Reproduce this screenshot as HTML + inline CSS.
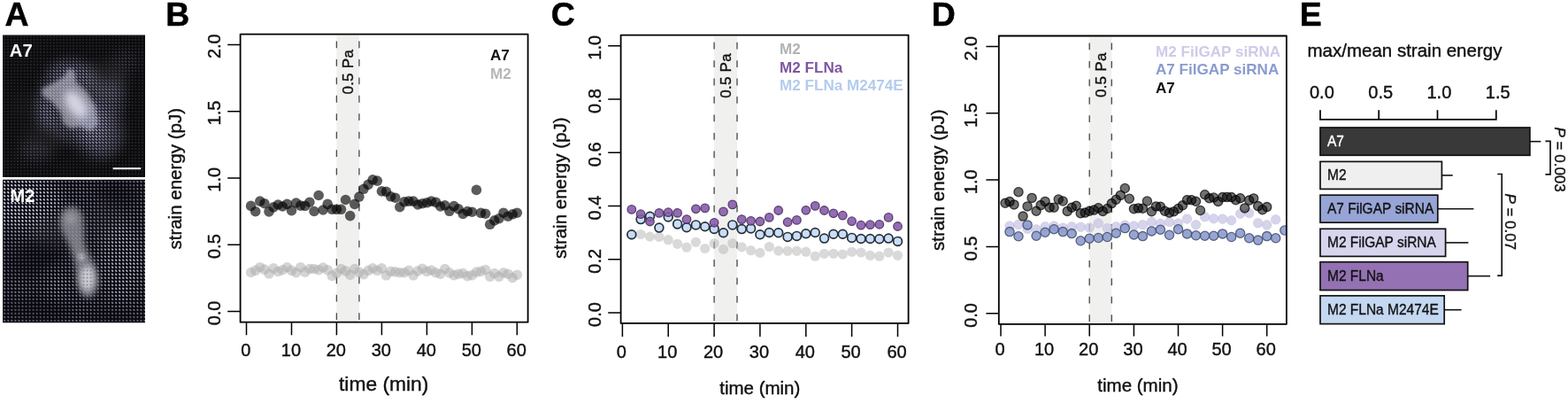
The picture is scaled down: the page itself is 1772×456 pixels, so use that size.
<!DOCTYPE html>
<html lang="en">
<head>
<meta charset="utf-8">
<title>Strain energy figure</title>
<style>
html,body{margin:0;padding:0;background:#fff;}
body{width:1772px;height:456px;overflow:hidden;}
svg{display:block;font-family:"Liberation Sans", sans-serif;}
.t{stroke:#111;stroke-width:0.4px;stroke-linejoin:round;}
</style>
</head>
<body>
<svg width="1772" height="456" viewBox="0 0 1772 456" fill="#111">
<rect width="1772" height="456" fill="#fff"/>

<text x="5.6" y="29.4" font-size="37.4" font-weight="bold" fill="#000" stroke="#000" stroke-width="0.5">A</text>
<text x="187.3" y="29.4" font-size="37.4" font-weight="bold" fill="#000" stroke="#000" stroke-width="0.5">B</text>
<text x="622.8" y="29.4" font-size="37.4" font-weight="bold" fill="#000" stroke="#000" stroke-width="0.5">C</text>
<text x="1052.8" y="29.4" font-size="37.4" font-weight="bold" fill="#000" stroke="#000" stroke-width="0.5">D</text>
<text x="1468.8" y="29.4" font-size="37.4" font-weight="bold" fill="#000" stroke="#000" stroke-width="0.5">E</text>
<g id="panelA">
<defs>
<pattern id="dotsA0" x="3.5" y="39.6" width="3.7" height="3.52" patternUnits="userSpaceOnUse"><rect x="0.9" y="0.8" width="1.8" height="1.8" rx="0.6" fill="#2a2a2e"/></pattern>
<pattern id="dotsA" x="3.5" y="39.6" width="3.7" height="3.52" patternUnits="userSpaceOnUse"><path d="M1.0 1.0L2.6 2.45" stroke="#c8c8ff" stroke-width="1.4" stroke-linecap="round"/></pattern>
<pattern id="dotsM0" x="3.2" y="203.2" width="4.06" height="4.02" patternUnits="userSpaceOnUse"><rect x="1.1" y="1.1" width="1.8" height="1.8" rx="0.6" fill="#505068"/></pattern>
<pattern id="dotsM" x="3.2" y="203.2" width="4.06" height="4.02" patternUnits="userSpaceOnUse"><path d="M1.6 1.6L2.4 2.45" stroke="#e6e6ff" stroke-width="1.45" stroke-linecap="round"/></pattern>
<filter id="bl2" x="-50%" y="-50%" width="200%" height="200%"><feGaussianBlur stdDeviation="2"/></filter>
<filter id="bl3" x="-50%" y="-50%" width="200%" height="200%"><feGaussianBlur stdDeviation="3"/></filter>
<filter id="bl5" x="-50%" y="-50%" width="200%" height="200%"><feGaussianBlur stdDeviation="5"/></filter>
<filter id="bl8" x="-50%" y="-50%" width="200%" height="200%"><feGaussianBlur stdDeviation="7"/></filter>
<clipPath id="clipA7"><rect x="3.1" y="39.4" width="160.9" height="160.5"/></clipPath>
<clipPath id="clipM2"><rect x="3.1" y="202.7" width="160.9" height="161.6"/></clipPath>
<mask id="mA7" maskUnits="userSpaceOnUse" x="0" y="30" width="170" height="180">
 <rect x="0" y="30" width="170" height="180" fill="#000"/>
 <g filter="url(#bl8)">
  <ellipse cx="86" cy="118" rx="40" ry="48" fill="#8a8a8a" transform="rotate(-28 86 118)"/>
  <ellipse cx="112" cy="152" rx="26" ry="28" fill="#8a8a8a"/>
  <ellipse cx="80" cy="84" rx="26" ry="16" fill="#c0c0c0"/>
  <ellipse cx="104" cy="140" rx="16" ry="22" fill="#f0f0f0"/>
  <ellipse cx="52" cy="124" rx="10" ry="22" fill="#d0d0d0"/>
  <ellipse cx="128" cy="112" rx="12" ry="24" fill="#909090"/>
  <ellipse cx="40" cy="172" rx="20" ry="12" fill="#484848"/>
  <ellipse cx="140" cy="70" rx="16" ry="14" fill="#383838"/>
 </g>
</mask>
<mask id="mM2" maskUnits="userSpaceOnUse" x="0" y="200" width="170" height="170">
 <rect x="0" y="200" width="170" height="170" fill="#686868"/>
 <g filter="url(#bl8)">
  <ellipse cx="40" cy="290" rx="34" ry="20" fill="#101010" transform="rotate(-20 40 290)"/>
  <ellipse cx="26" cy="226" rx="44" ry="32" fill="#ffffff"/>
  <ellipse cx="136" cy="296" rx="24" ry="46" fill="#d8d8d8"/>
  <ellipse cx="136" cy="220" rx="26" ry="14" fill="#202020"/>
  <ellipse cx="40" cy="350" rx="44" ry="14" fill="#282828"/>
  <ellipse cx="66" cy="322" rx="14" ry="14" fill="#c0c0c0"/>
  <ellipse cx="130" cy="360" rx="40" ry="10" fill="#303030"/>
 </g>
</mask>
</defs>
<g clip-path="url(#clipA7)">
<rect x="3" y="39" width="161.5" height="161.5" fill="#0b0b0d"/>
<g filter="url(#bl8)" opacity="0.2"><ellipse cx="118" cy="92" rx="26" ry="22" fill="#606060"/><ellipse cx="48" cy="156" rx="24" ry="18" fill="#4a4a4a"/><ellipse cx="122" cy="150" rx="22" ry="26" fill="#444"/><ellipse cx="30" cy="120" rx="18" ry="16" fill="#333"/></g>
<rect x="3" y="39" width="161.5" height="161.5" fill="url(#dotsA0)"/>
<g filter="url(#bl2)"><path d="M47 100 L60 94 L72 87 L78 77 L84 80 L86 93 L98 103 L108 120 L111 140 L103 148 L90 143 L80 145 L72 140 L68 126 L58 114 L48 108 Z" fill="#77777b"/></g>
<g filter="url(#bl5)"><ellipse cx="86" cy="118" rx="10" ry="18" fill="#d8d8dc" transform="rotate(-35 86 118)"/></g>
<rect x="3" y="39" width="161.5" height="161.5" fill="url(#dotsA)" mask="url(#mA7)"/>
<rect x="127.6" y="189.2" width="31.6" height="2" fill="#fff"/>
<text x="10.8" y="63.6" font-size="20.3" font-weight="bold" fill="#fff">A7</text>
</g>
<g clip-path="url(#clipM2)">
<rect x="3" y="202" width="161.5" height="163" fill="#08080d"/>
<g filter="url(#bl8)" opacity="0.22"><ellipse cx="56" cy="262" rx="22" ry="18" fill="#444"/><ellipse cx="120" cy="250" rx="22" ry="26" fill="#333"/></g>
<g filter="url(#bl3)"><path d="M68 246 Q70 234 82 233 Q94 236 94 250 Q95 264 95 274 Q98 284 103 292 Q111 304 111 320 Q108 336 98 336 Q88 332 87 316 Q86 300 83 290 Q79 278 74 268 Q67 258 68 246 Z" fill="#77777b"/></g>
<g filter="url(#bl3)"><ellipse cx="98.5" cy="314" rx="8" ry="14" fill="#d0d0d4"/><circle cx="80" cy="247" r="6" fill="#9a9a9e"/></g>
<g filter="url(#bl2)"><ellipse cx="92" cy="290" rx="3" ry="4" fill="#c8c8cc" transform="rotate(-30 92 290)"/></g>
<rect x="3" y="202" width="161.5" height="163" fill="url(#dotsM0)"/>
<rect x="3" y="202" width="161.5" height="163" fill="url(#dotsM)" mask="url(#mM2)"/>
<text x="11.6" y="228.2" font-size="20" font-weight="bold" fill="#fff">M2</text>
</g>
</g>
<g id="panelB">
<clipPath id="clipB"><rect x="271.6" y="38.55" width="325.0" height="325.15"/></clipPath>
<rect x="380.4" y="40.0" width="25.5" height="323.6" fill="#f0f0ef"/>
<line x1="380.4" y1="46.5" x2="380.4" y2="363.7" stroke="#4c4c4c" stroke-width="1.35" stroke-dasharray="7.8 12.65"/>
<line x1="405.9" y1="46.5" x2="405.9" y2="363.7" stroke="#4c4c4c" stroke-width="1.35" stroke-dasharray="7.8 12.65"/>
<text transform="translate(398.9,55.9) rotate(-90)" text-anchor="end" font-size="17" letter-spacing="0.25" class="t" fill="#111">0.5 Pa</text>
<g clip-path="url(#clipB)">
<g fill="rgba(170,170,170,0.5)"><circle cx="283.6" cy="307.5" r="5.8"/><circle cx="288.7" cy="305.3" r="5.8"/><circle cx="293.8" cy="301.7" r="5.8"/><circle cx="298.9" cy="304.1" r="5.8"/><circle cx="304.0" cy="309.0" r="5.8"/><circle cx="309.1" cy="302.9" r="5.8"/><circle cx="314.2" cy="306.5" r="5.8"/><circle cx="319.3" cy="304.7" r="5.8"/><circle cx="324.4" cy="301.7" r="5.8"/><circle cx="329.5" cy="305.3" r="5.8"/><circle cx="334.6" cy="307.7" r="5.8"/><circle cx="339.7" cy="301.7" r="5.8"/><circle cx="344.8" cy="307.1" r="5.8"/><circle cx="349.9" cy="303.5" r="5.8"/><circle cx="355.0" cy="303.5" r="5.8"/><circle cx="360.1" cy="304.7" r="5.8"/><circle cx="365.1" cy="302.0" r="5.8"/><circle cx="370.2" cy="304.7" r="5.8"/><circle cx="375.3" cy="311.4" r="5.8"/><circle cx="380.4" cy="308.3" r="5.8"/><circle cx="385.5" cy="303.5" r="5.8"/><circle cx="390.6" cy="305.9" r="5.8"/><circle cx="395.7" cy="310.2" r="5.8"/><circle cx="400.8" cy="303.5" r="5.8"/><circle cx="405.9" cy="307.1" r="5.8"/><circle cx="411.0" cy="309.6" r="5.8"/><circle cx="416.1" cy="305.3" r="5.8"/><circle cx="421.2" cy="302.9" r="5.8"/><circle cx="426.3" cy="305.3" r="5.8"/><circle cx="431.4" cy="302.9" r="5.8"/><circle cx="436.5" cy="310.8" r="5.8"/><circle cx="441.6" cy="306.3" r="5.8"/><circle cx="446.7" cy="306.8" r="5.8"/><circle cx="451.8" cy="307.7" r="5.8"/><circle cx="456.9" cy="307.7" r="5.8"/><circle cx="462.0" cy="305.3" r="5.8"/><circle cx="467.1" cy="310.8" r="5.8"/><circle cx="472.2" cy="305.9" r="5.8"/><circle cx="477.3" cy="303.2" r="5.8"/><circle cx="482.4" cy="306.4" r="5.8"/><circle cx="487.5" cy="305.0" r="5.8"/><circle cx="492.6" cy="307.8" r="5.8"/><circle cx="497.7" cy="309.2" r="5.8"/><circle cx="502.8" cy="303.5" r="5.8"/><circle cx="507.9" cy="307.8" r="5.8"/><circle cx="513.0" cy="310.6" r="5.8"/><circle cx="518.1" cy="309.2" r="5.8"/><circle cx="523.2" cy="308.5" r="5.8"/><circle cx="528.3" cy="311.6" r="5.8"/><circle cx="533.4" cy="310.6" r="5.8"/><circle cx="538.4" cy="307.1" r="5.8"/><circle cx="543.5" cy="306.4" r="5.8"/><circle cx="548.6" cy="304.5" r="5.8"/><circle cx="553.7" cy="312.1" r="5.8"/><circle cx="558.8" cy="308.5" r="5.8"/><circle cx="563.9" cy="312.1" r="5.8"/><circle cx="569.0" cy="307.8" r="5.8"/><circle cx="574.1" cy="309.2" r="5.8"/><circle cx="579.2" cy="313.5" r="5.8"/><circle cx="584.3" cy="310.2" r="5.8"/></g>
<g fill="rgba(0,0,0,0.64)"><circle cx="283.6" cy="232.4" r="5.8"/><circle cx="288.7" cy="238.7" r="5.8"/><circle cx="293.8" cy="227.1" r="5.8"/><circle cx="298.9" cy="229.7" r="5.8"/><circle cx="304.0" cy="238.9" r="5.8"/><circle cx="309.1" cy="233.9" r="5.8"/><circle cx="314.2" cy="231.0" r="5.8"/><circle cx="319.3" cy="233.0" r="5.8"/><circle cx="324.4" cy="230.4" r="5.8"/><circle cx="329.5" cy="237.6" r="5.8"/><circle cx="334.6" cy="229.0" r="5.8"/><circle cx="339.7" cy="232.1" r="5.8"/><circle cx="344.8" cy="232.4" r="5.8"/><circle cx="349.9" cy="228.2" r="5.8"/><circle cx="355.0" cy="238.5" r="5.8"/><circle cx="360.1" cy="220.5" r="5.8"/><circle cx="365.1" cy="237.0" r="5.8"/><circle cx="370.2" cy="230.4" r="5.8"/><circle cx="375.3" cy="236.3" r="5.8"/><circle cx="380.4" cy="236.3" r="5.8"/><circle cx="385.5" cy="236.3" r="5.8"/><circle cx="390.6" cy="225.5" r="5.8"/><circle cx="395.7" cy="243.6" r="5.8"/><circle cx="400.8" cy="230.4" r="5.8"/><circle cx="405.9" cy="222.1" r="5.8"/><circle cx="411.0" cy="213.3" r="5.8"/><circle cx="416.1" cy="208.4" r="5.8"/><circle cx="421.2" cy="202.8" r="5.8"/><circle cx="426.3" cy="204.1" r="5.8"/><circle cx="431.4" cy="215.9" r="5.8"/><circle cx="436.5" cy="216.3" r="5.8"/><circle cx="441.6" cy="221.8" r="5.8"/><circle cx="446.7" cy="223.2" r="5.8"/><circle cx="451.8" cy="233.7" r="5.8"/><circle cx="456.9" cy="227.8" r="5.8"/><circle cx="462.0" cy="227.1" r="5.8"/><circle cx="467.1" cy="227.1" r="5.8"/><circle cx="472.2" cy="231.0" r="5.8"/><circle cx="477.3" cy="229.7" r="5.8"/><circle cx="482.4" cy="228.8" r="5.8"/><circle cx="487.5" cy="227.1" r="5.8"/><circle cx="492.6" cy="228.4" r="5.8"/><circle cx="497.7" cy="233.0" r="5.8"/><circle cx="502.8" cy="231.8" r="5.8"/><circle cx="507.9" cy="238.3" r="5.8"/><circle cx="513.0" cy="232.6" r="5.8"/><circle cx="518.1" cy="235.9" r="5.8"/><circle cx="523.2" cy="241.4" r="5.8"/><circle cx="528.3" cy="238.5" r="5.8"/><circle cx="533.4" cy="239.2" r="5.8"/><circle cx="538.4" cy="214.4" r="5.8"/><circle cx="543.5" cy="240.4" r="5.8"/><circle cx="548.6" cy="241.2" r="5.8"/><circle cx="553.7" cy="253.3" r="5.8"/><circle cx="558.8" cy="248.9" r="5.8"/><circle cx="563.9" cy="246.7" r="5.8"/><circle cx="569.0" cy="240.2" r="5.8"/><circle cx="574.1" cy="244.2" r="5.8"/><circle cx="579.2" cy="241.8" r="5.8"/><circle cx="584.3" cy="240.2" r="5.8"/></g>
</g>
<rect x="271.6" y="38.55" width="325.0" height="325.1" fill="none" stroke="#000" stroke-width="1.8" stroke-linejoin="round"/>
<path d="M257.2 351.6H271.6M257.2 276.3H271.6M257.2 201.0H271.6M257.2 125.7H271.6M257.2 50.4H271.6M278.5 363.7V378.3M329.5 363.7V378.3M380.4 363.7V378.3M431.4 363.7V378.3M482.4 363.7V378.3M533.4 363.7V378.3M584.3 363.7V378.3" stroke="#000" stroke-width="1.5" fill="none"/>
<text transform="translate(249.3,353.4) rotate(-90)" text-anchor="middle" font-size="20" class="t">0.0</text>
<text transform="translate(249.3,278.1) rotate(-90)" text-anchor="middle" font-size="20" class="t">0.5</text>
<text transform="translate(249.3,202.8) rotate(-90)" text-anchor="middle" font-size="20" class="t">1.0</text>
<text transform="translate(249.3,127.5) rotate(-90)" text-anchor="middle" font-size="20" class="t">1.5</text>
<text transform="translate(249.3,52.2) rotate(-90)" text-anchor="middle" font-size="20" class="t">2.0</text>
<text x="277.9" y="402.1" text-anchor="middle" font-size="20" class="t">0</text>
<text x="328.9" y="402.1" text-anchor="middle" font-size="20" class="t">10</text>
<text x="379.8" y="402.1" text-anchor="middle" font-size="20" class="t">20</text>
<text x="430.8" y="402.1" text-anchor="middle" font-size="20" class="t">30</text>
<text x="481.8" y="402.1" text-anchor="middle" font-size="20" class="t">40</text>
<text x="532.8" y="402.1" text-anchor="middle" font-size="20" class="t">50</text>
<text x="583.7" y="402.1" text-anchor="middle" font-size="20" class="t">60</text>
<text x="433.7" y="440.6" text-anchor="middle" font-size="22.8" class="t">time (min)</text>
<text transform="translate(205.4,201.8) rotate(-90)" text-anchor="middle" font-size="20.5" class="t">strain energy (pJ)</text>
<text x="554" y="68" font-size="17.1" font-weight="bold" fill="#111">A7</text>
<text x="554" y="88.5" font-size="17.1" font-weight="bold" fill="#b6b6b6">M2</text>
</g>
<g id="panelC">
<clipPath id="clipC"><rect x="701.6" y="39.7" width="324.9999999999999" height="325.2"/></clipPath>
<rect x="807.1" y="41.2" width="25.9" height="323.7" fill="#f0f0ef"/>
<line x1="807.1" y1="47.7" x2="807.1" y2="364.9" stroke="#4c4c4c" stroke-width="1.35" stroke-dasharray="7.8 12.65"/>
<line x1="833.0" y1="47.7" x2="833.0" y2="364.9" stroke="#4c4c4c" stroke-width="1.35" stroke-dasharray="7.8 12.65"/>
<text transform="translate(825.8,60.1) rotate(-90)" text-anchor="end" font-size="17" letter-spacing="0.25" class="t" fill="#111">0.5 Pa</text>
<g clip-path="url(#clipC)">
<g fill="rgba(185,185,185,0.55)"><circle cx="713.8" cy="265.4" r="5.6"/><circle cx="724.1" cy="264.5" r="5.6"/><circle cx="734.5" cy="267.1" r="5.6"/><circle cx="744.9" cy="267.4" r="5.6"/><circle cx="755.2" cy="270.7" r="5.6"/><circle cx="765.6" cy="275.3" r="5.6"/><circle cx="776.0" cy="279.2" r="5.6"/><circle cx="786.4" cy="273.3" r="5.6"/><circle cx="796.7" cy="280.5" r="5.6"/><circle cx="807.1" cy="274.8" r="5.6"/><circle cx="817.5" cy="281.4" r="5.6"/><circle cx="827.8" cy="274.7" r="5.6"/><circle cx="838.2" cy="278.8" r="5.6"/><circle cx="848.6" cy="282.7" r="5.6"/><circle cx="858.9" cy="285.4" r="5.6"/><circle cx="869.3" cy="278.5" r="5.6"/><circle cx="879.7" cy="283.1" r="5.6"/><circle cx="890.1" cy="283.3" r="5.6"/><circle cx="900.4" cy="283.3" r="5.6"/><circle cx="910.8" cy="284.2" r="5.6"/><circle cx="921.2" cy="289.2" r="5.6"/><circle cx="931.5" cy="286.3" r="5.6"/><circle cx="941.9" cy="286.3" r="5.6"/><circle cx="952.3" cy="287.0" r="5.6"/><circle cx="962.6" cy="284.3" r="5.6"/><circle cx="973.0" cy="285.0" r="5.6"/><circle cx="983.4" cy="288.3" r="5.6"/><circle cx="993.8" cy="289.2" r="5.6"/><circle cx="1004.1" cy="285.0" r="5.6"/><circle cx="1014.5" cy="288.3" r="5.6"/></g>
<g fill="rgba(198,219,246,0.92)" stroke="#26303a" stroke-width="1.7"><circle cx="713.8" cy="264.7" r="4.9"/><circle cx="724.1" cy="247.6" r="4.9"/><circle cx="734.5" cy="244.3" r="4.9"/><circle cx="744.9" cy="257.1" r="4.9"/><circle cx="755.2" cy="245.0" r="4.9"/><circle cx="765.6" cy="252.9" r="4.9"/><circle cx="776.0" cy="256.8" r="4.9"/><circle cx="786.4" cy="253.9" r="4.9"/><circle cx="796.7" cy="255.8" r="4.9"/><circle cx="807.1" cy="258.4" r="4.9"/><circle cx="817.5" cy="262.8" r="4.9"/><circle cx="827.8" cy="253.9" r="4.9"/><circle cx="838.2" cy="258.6" r="4.9"/><circle cx="848.6" cy="257.9" r="4.9"/><circle cx="858.9" cy="264.7" r="4.9"/><circle cx="869.3" cy="262.5" r="4.9"/><circle cx="879.7" cy="262.8" r="4.9"/><circle cx="890.1" cy="267.4" r="4.9"/><circle cx="900.4" cy="266.4" r="4.9"/><circle cx="910.8" cy="263.8" r="4.9"/><circle cx="921.2" cy="262.5" r="4.9"/><circle cx="931.5" cy="269.1" r="4.9"/><circle cx="941.9" cy="264.2" r="4.9"/><circle cx="952.3" cy="264.2" r="4.9"/><circle cx="962.6" cy="268.4" r="4.9"/><circle cx="973.0" cy="269.5" r="4.9"/><circle cx="983.4" cy="269.5" r="4.9"/><circle cx="993.8" cy="269.7" r="4.9"/><circle cx="1004.1" cy="269.1" r="4.9"/><circle cx="1014.5" cy="272.4" r="4.9"/></g>
<g fill="rgba(136,92,170,0.9)" stroke="rgba(70,42,95,0.85)" stroke-width="1.3"><circle cx="713.8" cy="236.4" r="4.75"/><circle cx="724.1" cy="241.7" r="4.75"/><circle cx="734.5" cy="250.0" r="4.75"/><circle cx="744.9" cy="240.4" r="4.75"/><circle cx="755.2" cy="239.7" r="4.75"/><circle cx="765.6" cy="240.4" r="4.75"/><circle cx="776.0" cy="247.6" r="4.75"/><circle cx="786.4" cy="235.8" r="4.75"/><circle cx="796.7" cy="234.9" r="4.75"/><circle cx="807.1" cy="251.3" r="4.75"/><circle cx="817.5" cy="238.9" r="4.75"/><circle cx="827.8" cy="230.9" r="4.75"/><circle cx="838.2" cy="247.6" r="4.75"/><circle cx="848.6" cy="249.3" r="4.75"/><circle cx="858.9" cy="250.0" r="4.75"/><circle cx="869.3" cy="245.4" r="4.75"/><circle cx="879.7" cy="237.5" r="4.75"/><circle cx="890.1" cy="250.7" r="4.75"/><circle cx="900.4" cy="248.4" r="4.75"/><circle cx="910.8" cy="237.3" r="4.75"/><circle cx="921.2" cy="232.4" r="4.75"/><circle cx="931.5" cy="237.5" r="4.75"/><circle cx="941.9" cy="240.8" r="4.75"/><circle cx="952.3" cy="243.2" r="4.75"/><circle cx="962.6" cy="249.7" r="4.75"/><circle cx="973.0" cy="254.2" r="4.75"/><circle cx="983.4" cy="253.7" r="4.75"/><circle cx="993.8" cy="253.3" r="4.75"/><circle cx="1004.1" cy="245.4" r="4.75"/><circle cx="1014.5" cy="255.5" r="4.75"/></g>
</g>
<rect x="701.6" y="39.7" width="325.0" height="325.2" fill="none" stroke="#000" stroke-width="1.8" stroke-linejoin="round"/>
<path d="M687.2 353.0H701.6M687.2 292.8H701.6M687.2 232.5H701.6M687.2 172.3H701.6M687.2 112.0H701.6M687.2 51.8H701.6M703.4 364.9V380.0M755.2 364.9V380.0M807.1 364.9V380.0M858.9 364.9V380.0M910.8 364.9V380.0M962.6 364.9V380.0M1014.5 364.9V380.0" stroke="#000" stroke-width="1.5" fill="none"/>
<text transform="translate(678.6,355.0) rotate(-90)" text-anchor="middle" font-size="20" class="t">0.0</text>
<text transform="translate(678.6,294.8) rotate(-90)" text-anchor="middle" font-size="20" class="t">0.2</text>
<text transform="translate(678.6,234.5) rotate(-90)" text-anchor="middle" font-size="20" class="t">0.4</text>
<text transform="translate(678.6,174.3) rotate(-90)" text-anchor="middle" font-size="20" class="t">0.6</text>
<text transform="translate(678.6,114.0) rotate(-90)" text-anchor="middle" font-size="20" class="t">0.8</text>
<text transform="translate(678.6,53.8) rotate(-90)" text-anchor="middle" font-size="20" class="t">1.0</text>
<text x="702.4" y="404.0" text-anchor="middle" font-size="20" class="t">0</text>
<text x="754.2" y="404.0" text-anchor="middle" font-size="20" class="t">10</text>
<text x="806.1" y="404.0" text-anchor="middle" font-size="20" class="t">20</text>
<text x="857.9" y="404.0" text-anchor="middle" font-size="20" class="t">30</text>
<text x="909.8" y="404.0" text-anchor="middle" font-size="20" class="t">40</text>
<text x="961.6" y="404.0" text-anchor="middle" font-size="20" class="t">50</text>
<text x="1013.5" y="404.0" text-anchor="middle" font-size="20" class="t">60</text>
<text x="858.8" y="445.3" text-anchor="middle" font-size="20.5" class="t">time (min)</text>
<text transform="translate(639.7,212.3) rotate(-90)" text-anchor="middle" font-size="20.5" class="t">strain energy (pJ)</text>
<text x="881" y="61.4" font-size="17.1" font-weight="bold" fill="#b2b2b2">M2</text>
<text x="881" y="81.8" font-size="17.1" font-weight="bold" fill="#7f55a3">M2 FLNa</text>
<text x="881" y="102.3" font-size="17.1" font-weight="bold" fill="#b3ccee">M2 FLNa M2474E</text>
</g>
<g id="panelD">
<clipPath id="clipD"><rect x="1128.8" y="40.5" width="325.10000000000014" height="325.3"/></clipPath>
<rect x="1231.2" y="42.0" width="25.1" height="323.8" fill="#f0f0ef"/>
<line x1="1231.2" y1="48.5" x2="1231.2" y2="365.8" stroke="#4c4c4c" stroke-width="1.35" stroke-dasharray="7.8 12.65"/>
<line x1="1256.3" y1="48.5" x2="1256.3" y2="365.8" stroke="#4c4c4c" stroke-width="1.35" stroke-dasharray="7.8 12.65"/>
<text transform="translate(1249.5,59.4) rotate(-90)" text-anchor="end" font-size="17" letter-spacing="0.25" class="t" fill="#111">0.5 Pa</text>
<g clip-path="url(#clipD)">
<g fill="rgba(198,197,230,0.74)" stroke="rgba(185,185,210,0.5)" stroke-width="0.8"><circle cx="1141.0" cy="255.0" r="5.3"/><circle cx="1151.0" cy="253.4" r="5.3"/><circle cx="1161.1" cy="258.3" r="5.3"/><circle cx="1171.1" cy="258.9" r="5.3"/><circle cx="1181.1" cy="255.7" r="5.3"/><circle cx="1191.1" cy="255.0" r="5.3"/><circle cx="1201.2" cy="257.0" r="5.3"/><circle cx="1211.2" cy="255.7" r="5.3"/><circle cx="1221.2" cy="256.3" r="5.3"/><circle cx="1231.2" cy="257.0" r="5.3"/><circle cx="1241.3" cy="252.0" r="5.3"/><circle cx="1251.3" cy="257.6" r="5.3"/><circle cx="1261.3" cy="255.7" r="5.3"/><circle cx="1271.3" cy="254.0" r="5.3"/><circle cx="1281.4" cy="255.0" r="5.3"/><circle cx="1291.4" cy="253.7" r="5.3"/><circle cx="1301.4" cy="250.4" r="5.3"/><circle cx="1311.4" cy="252.4" r="5.3"/><circle cx="1321.5" cy="250.4" r="5.3"/><circle cx="1331.5" cy="252.1" r="5.3"/><circle cx="1341.5" cy="247.1" r="5.3"/><circle cx="1351.5" cy="253.7" r="5.3"/><circle cx="1361.6" cy="244.7" r="5.3"/><circle cx="1371.6" cy="246.8" r="5.3"/><circle cx="1381.6" cy="247.1" r="5.3"/><circle cx="1391.6" cy="248.7" r="5.3"/><circle cx="1401.6" cy="241.2" r="5.3"/><circle cx="1411.7" cy="240.5" r="5.3"/><circle cx="1421.7" cy="251.7" r="5.3"/><circle cx="1431.7" cy="253.9" r="5.3"/><circle cx="1441.7" cy="247.8" r="5.3"/></g>
<g fill="rgba(134,150,204,0.86)" stroke="rgba(66,76,108,0.85)" stroke-width="1.3"><circle cx="1141.0" cy="261.6" r="5.1"/><circle cx="1151.0" cy="266.8" r="5.1"/><circle cx="1161.1" cy="253.9" r="5.1"/><circle cx="1171.1" cy="266.2" r="5.1"/><circle cx="1181.1" cy="262.2" r="5.1"/><circle cx="1191.1" cy="258.7" r="5.1"/><circle cx="1201.2" cy="261.6" r="5.1"/><circle cx="1211.2" cy="263.6" r="5.1"/><circle cx="1221.2" cy="271.8" r="5.1"/><circle cx="1231.2" cy="269.2" r="5.1"/><circle cx="1241.3" cy="268.5" r="5.1"/><circle cx="1251.3" cy="267.5" r="5.1"/><circle cx="1261.3" cy="263.2" r="5.1"/><circle cx="1271.3" cy="257.6" r="5.1"/><circle cx="1281.4" cy="264.9" r="5.1"/><circle cx="1291.4" cy="266.6" r="5.1"/><circle cx="1301.4" cy="260.9" r="5.1"/><circle cx="1311.4" cy="259.2" r="5.1"/><circle cx="1321.5" cy="265.3" r="5.1"/><circle cx="1331.5" cy="258.7" r="5.1"/><circle cx="1341.5" cy="263.9" r="5.1"/><circle cx="1351.5" cy="265.8" r="5.1"/><circle cx="1361.6" cy="266.2" r="5.1"/><circle cx="1371.6" cy="266.2" r="5.1"/><circle cx="1381.6" cy="263.9" r="5.1"/><circle cx="1391.6" cy="267.5" r="5.1"/><circle cx="1401.6" cy="263.2" r="5.1"/><circle cx="1411.7" cy="268.8" r="5.1"/><circle cx="1421.7" cy="271.1" r="5.1"/><circle cx="1431.7" cy="266.6" r="5.1"/><circle cx="1441.7" cy="268.8" r="5.1"/><circle cx="1451.8" cy="260.0" r="5.1"/></g>
<g fill="rgba(0,0,0,0.56)" stroke="rgba(0,0,0,0.7)" stroke-width="1.3"><circle cx="1136.0" cy="229.2" r="5.1"/><circle cx="1141.0" cy="227.6" r="5.1"/><circle cx="1146.0" cy="230.9" r="5.1"/><circle cx="1151.0" cy="216.7" r="5.1"/><circle cx="1156.1" cy="244.1" r="5.1"/><circle cx="1161.1" cy="232.9" r="5.1"/><circle cx="1166.1" cy="223.4" r="5.1"/><circle cx="1171.1" cy="238.2" r="5.1"/><circle cx="1176.1" cy="231.6" r="5.1"/><circle cx="1181.1" cy="227.4" r="5.1"/><circle cx="1186.1" cy="234.2" r="5.1"/><circle cx="1191.1" cy="234.2" r="5.1"/><circle cx="1196.2" cy="225.0" r="5.1"/><circle cx="1201.2" cy="227.0" r="5.1"/><circle cx="1206.2" cy="238.4" r="5.1"/><circle cx="1211.2" cy="234.2" r="5.1"/><circle cx="1216.2" cy="232.2" r="5.1"/><circle cx="1221.2" cy="240.8" r="5.1"/><circle cx="1226.2" cy="240.1" r="5.1"/><circle cx="1231.2" cy="238.2" r="5.1"/><circle cx="1236.3" cy="237.1" r="5.1"/><circle cx="1241.3" cy="234.7" r="5.1"/><circle cx="1246.3" cy="238.4" r="5.1"/><circle cx="1251.3" cy="235.5" r="5.1"/><circle cx="1256.3" cy="229.6" r="5.1"/><circle cx="1261.3" cy="225.3" r="5.1"/><circle cx="1266.3" cy="220.4" r="5.1"/><circle cx="1271.3" cy="212.5" r="5.1"/><circle cx="1276.3" cy="224.3" r="5.1"/><circle cx="1281.4" cy="235.8" r="5.1"/><circle cx="1286.4" cy="234.9" r="5.1"/><circle cx="1291.4" cy="235.3" r="5.1"/><circle cx="1296.4" cy="227.0" r="5.1"/><circle cx="1301.4" cy="238.8" r="5.1"/><circle cx="1306.4" cy="232.9" r="5.1"/><circle cx="1311.4" cy="233.2" r="5.1"/><circle cx="1316.4" cy="238.2" r="5.1"/><circle cx="1321.5" cy="240.1" r="5.1"/><circle cx="1326.5" cy="238.8" r="5.1"/><circle cx="1331.5" cy="235.5" r="5.1"/><circle cx="1336.5" cy="231.8" r="5.1"/><circle cx="1341.5" cy="225.7" r="5.1"/><circle cx="1346.5" cy="225.7" r="5.1"/><circle cx="1351.5" cy="227.3" r="5.1"/><circle cx="1356.5" cy="237.5" r="5.1"/><circle cx="1361.6" cy="219.7" r="5.1"/><circle cx="1366.6" cy="223.7" r="5.1"/><circle cx="1371.6" cy="223.0" r="5.1"/><circle cx="1376.6" cy="227.4" r="5.1"/><circle cx="1381.6" cy="222.6" r="5.1"/><circle cx="1386.6" cy="222.4" r="5.1"/><circle cx="1391.6" cy="222.6" r="5.1"/><circle cx="1396.6" cy="225.7" r="5.1"/><circle cx="1401.6" cy="223.7" r="5.1"/><circle cx="1406.7" cy="234.9" r="5.1"/><circle cx="1411.7" cy="226.1" r="5.1"/><circle cx="1416.7" cy="223.9" r="5.1"/><circle cx="1421.7" cy="232.6" r="5.1"/><circle cx="1426.7" cy="236.8" r="5.1"/><circle cx="1431.7" cy="233.6" r="5.1"/></g>
</g>
<rect x="1128.8" y="40.5" width="325.1" height="325.3" fill="none" stroke="#000" stroke-width="1.8" stroke-linejoin="round"/>
<path d="M1114.4 353.7H1128.8M1114.4 278.4H1128.8M1114.4 203.1H1128.8M1114.4 127.8H1128.8M1114.4 52.5H1128.8M1131.0 365.8V379.4M1181.1 365.8V379.4M1231.2 365.8V379.4M1281.4 365.8V379.4M1331.5 365.8V379.4M1381.6 365.8V379.4M1431.7 365.8V379.4" stroke="#000" stroke-width="1.5" fill="none"/>
<text transform="translate(1103.8,355.9) rotate(-90)" text-anchor="middle" font-size="20" class="t">0.0</text>
<text transform="translate(1103.8,280.6) rotate(-90)" text-anchor="middle" font-size="20" class="t">0.5</text>
<text transform="translate(1103.8,205.3) rotate(-90)" text-anchor="middle" font-size="20" class="t">1.0</text>
<text transform="translate(1103.8,130.0) rotate(-90)" text-anchor="middle" font-size="20" class="t">1.5</text>
<text transform="translate(1103.8,54.7) rotate(-90)" text-anchor="middle" font-size="20" class="t">2.0</text>
<text x="1130.0" y="401.3" text-anchor="middle" font-size="20" class="t">0</text>
<text x="1180.1" y="401.3" text-anchor="middle" font-size="20" class="t">10</text>
<text x="1230.2" y="401.3" text-anchor="middle" font-size="20" class="t">20</text>
<text x="1280.4" y="401.3" text-anchor="middle" font-size="20" class="t">30</text>
<text x="1330.5" y="401.3" text-anchor="middle" font-size="20" class="t">40</text>
<text x="1380.6" y="401.3" text-anchor="middle" font-size="20" class="t">50</text>
<text x="1430.7" y="401.3" text-anchor="middle" font-size="20" class="t">60</text>
<text x="1285.9" y="442.1" text-anchor="middle" font-size="20.5" class="t">time (min)</text>
<text transform="translate(1066.5,203.2) rotate(-90)" text-anchor="middle" font-size="20.5" class="t">strain energy (pJ)</text>
<text x="1306" y="63.7" font-size="17.1" font-weight="bold" fill="#cdcbe8">M2 FilGAP siRNA</text>
<text x="1306" y="83.9" font-size="17.1" font-weight="bold" fill="#8a9bd0">A7 FilGAP siRNA</text>
<text x="1306" y="104.9" font-size="17.1" font-weight="bold" fill="#111">A7</text>
</g>
<g id="panelE">
<text x="1477.5" y="64.3" font-size="20.5" class="t">max/mean strain energy</text>
<path d="M1492.0 124.3V134.9H1690.8V124.3M1558.2 134.9V124.3M1624.5 134.9V124.3" fill="none" stroke="#000" stroke-width="1.7"/>
<text x="1493.9" y="111.2" text-anchor="middle" font-size="20" class="t">0.0</text>
<text x="1560.2" y="111.2" text-anchor="middle" font-size="20" class="t">0.5</text>
<text x="1626.4" y="111.2" text-anchor="middle" font-size="20" class="t">1.0</text>
<text x="1692.7" y="111.2" text-anchor="middle" font-size="20" class="t">1.5</text>
<path d="M1728.9 159.7H1741.3" stroke="#111" stroke-width="1.6"/>
<rect x="1492.0" y="144.0" width="236.9" height="31.3" fill="#393939" stroke="#111" stroke-width="1.7"/>
<text transform="translate(1500,165.1) scale(0.935,1)" font-size="16.6" fill="#fff" stroke="#fff" stroke-width="0.35">A7</text>
<path d="M1629.4 197.9H1641.7" stroke="#111" stroke-width="1.6"/>
<rect x="1492.0" y="182.4" width="137.4" height="31.0" fill="#efefef" stroke="#111" stroke-width="1.7"/>
<text transform="translate(1500,203.3) scale(0.935,1)" font-size="16.6" fill="#111" stroke="#111" stroke-width="0.35">M2</text>
<path d="M1624.8 235.7H1665.4" stroke="#111" stroke-width="1.6"/>
<rect x="1492.0" y="220.2" width="132.8" height="31.0" fill="#97a5d6" stroke="#111" stroke-width="1.7"/>
<text transform="translate(1500,241.1) scale(0.935,1)" font-size="16.6" fill="#111" stroke="#111" stroke-width="0.35">A7 FilGAP siRNA</text>
<path d="M1633.6 273.9H1659.4" stroke="#111" stroke-width="1.6"/>
<rect x="1492.0" y="258.3" width="141.6" height="31.1" fill="#d7d5ee" stroke="#111" stroke-width="1.7"/>
<text transform="translate(1500,279.2) scale(0.935,1)" font-size="16.6" fill="#111" stroke="#111" stroke-width="0.35">M2 FilGAP siRNA</text>
<path d="M1658.7 311.6H1684.1" stroke="#111" stroke-width="1.6"/>
<rect x="1492.0" y="295.7" width="166.7" height="31.8" fill="#9471b3" stroke="#111" stroke-width="1.7"/>
<text transform="translate(1500,317.0) scale(0.935,1)" font-size="16.6" fill="#111" stroke="#111" stroke-width="0.35">M2 FLNa</text>
<path d="M1632.2 349.7H1651.6" stroke="#111" stroke-width="1.6"/>
<rect x="1492.0" y="333.8" width="140.2" height="31.8" fill="#c4d8f2" stroke="#111" stroke-width="1.7"/>
<text transform="translate(1500,355.1) scale(0.935,1)" font-size="16.6" fill="#111" stroke="#111" stroke-width="0.35">M2 FLNa M2474E</text>
<path d="M1746.4 159.4H1752V196.8H1746.4" fill="none" stroke="#111" stroke-width="1.7"/>
<path d="M1692.2 196.5H1697.2V311.2H1692.2" fill="none" stroke="#111" stroke-width="1.7"/>
<text transform="translate(1756.6,143.5) rotate(90)" font-size="17" class="t"><tspan font-style="italic">P</tspan> = 0.003</text>
<text transform="translate(1701.2,218.4) rotate(90)" font-size="17" class="t"><tspan font-style="italic">P</tspan> = 0.07</text>
</g>
</svg>
</body>
</html>
